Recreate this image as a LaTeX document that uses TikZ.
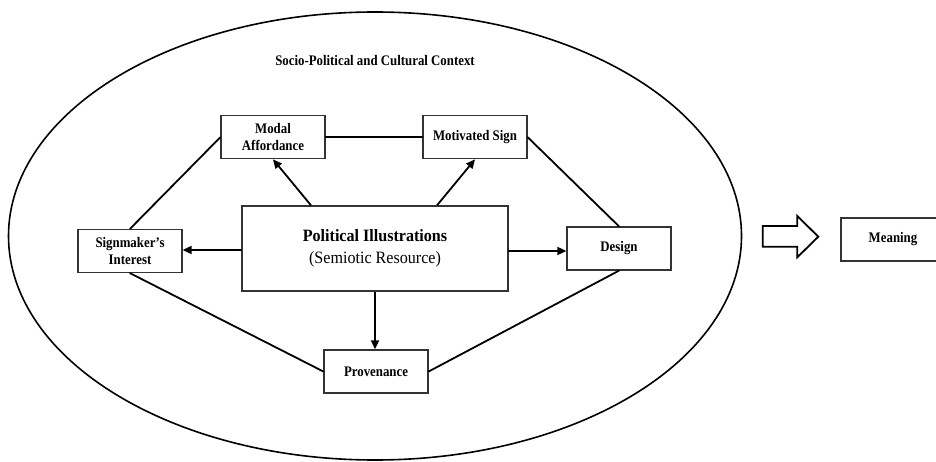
\documentclass[tikz,border=0pt]{standalone}
\usepackage{fontspec}
\setmainfont{Liberation Serif}
\newfontfamily\condfont[FakeStretch=0.88,Ligatures=TeX]{Liberation Serif}
\newfontfamily\midfont[FakeStretch=0.93,Ligatures=TeX]{Liberation Serif}
\usetikzlibrary{arrows.meta,calc}
\begin{document}
\begin{tikzpicture}[x=1pt,y=-1pt,
  box/.style={draw=black!80,line width=1.3pt,fill=white,minimum width=104pt,minimum height=43pt,inner sep=0pt,align=center,font=\condfont\bfseries\fontsize{14.6}{17.6}\selectfont},
  link/.style={line width=1.8pt,line cap=round},
  arr/.style={line width=1.8pt,-{Triangle[length=9pt,width=8pt]}}]
\useasboundingbox (0,0) rectangle (936,462);
\clip (0,0) rectangle (936,462);
\fill[white] (0,0) rectangle (936,462);
% context ellipse
\draw[line width=1.6pt] (375,236) ellipse [x radius=366.5pt, y radius=224pt];
\node[font=\condfont\bfseries\fontsize{14.6}{16}\selectfont] (ctx) at (375,61) {Socio-Political and Cultural Context};
% nodes
\node[box] (ma) at (273,137.2) {Modal\\Affordance};
\node[box] (ms) at (475,137.2) {Motivated Sign};
\node[box] (si) at (130,251) {Signmaker’s\\Interest};
\node[box,minimum width=266pt,minimum height=85pt,font=\midfont\fontsize{17.3}{21.7}\selectfont] (pi) at (375,248.5)
  {\bfseries Political Illustrations\\\mdseries (Semiotic Resource)};
\node[box] (de) at (619,248.5) {Design};
\node[box] (pv) at (376,371.5) {Provenance};
\node[box] (me) at (893,239.5) {Meaning};
% anchor points of the horizontal arrows
\coordinate (pw) at (242,250);
\coordinate (pe) at (508,251);
% arrows from centre
\draw[arr] ($(pi.north)+(-64,0)$) -- (ma.south);
\draw[arr] ($(pi.north)+(62,0)$) -- (ms.south);
\draw[arr] (pw) -- (pw -| si.east);
\draw[arr] (pe) -- (pe -| de.west);
\draw[arr] (pi.south) -- (pi.south |- pv.north);
% outer links
\draw[link] (ma.east) -- (ms.west);
\draw[link] (si.north) -- (ma.west);
\draw[link] (ms.east) -- (de.north);
\draw[link] (si.south) -- (pv.west);
\draw[link] (pv.east) -- (de.south);
% hollow arrow
\draw[line width=1.8pt,line join=miter,fill=white] (762.7,226) -- (797.3,226) -- (797.3,216) -- (818.3,236.7) -- (797.3,257.3) -- (797.3,246.7) -- (762.7,246.7) -- cycle;
\end{tikzpicture}
\end{document}
